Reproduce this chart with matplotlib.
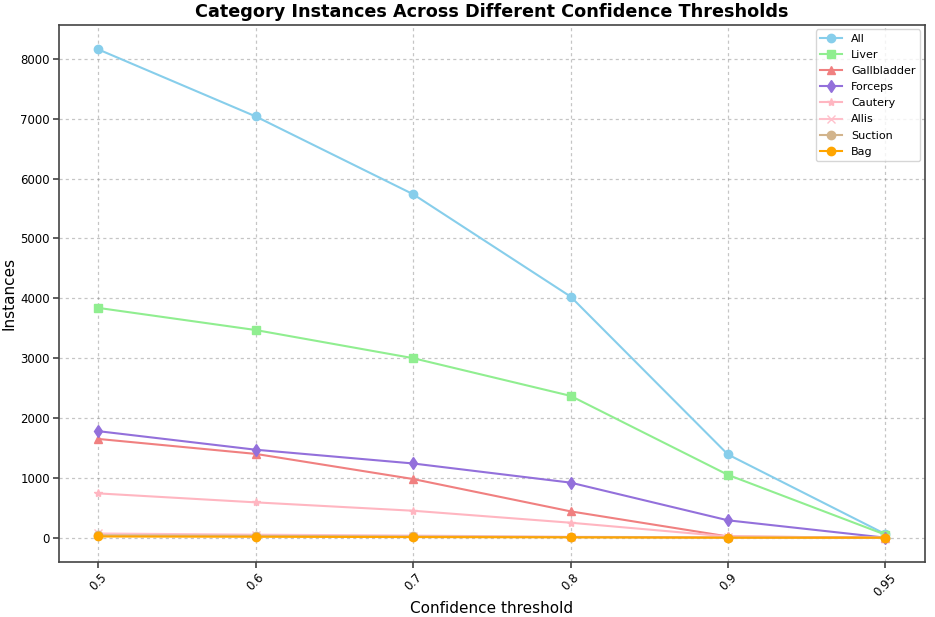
import matplotlib
matplotlib.use('Agg')
import matplotlib.pyplot as plt

thresholds = ['0.5', '0.6', '0.7', '0.8', '0.9', '0.95']

all_counts = [8160, 7040, 5740, 4030, 1390, 60]
liver = [3840, 3470, 3000, 2370, 1050, 50]
gallbladder = [1650, 1400, 980, 440, 20, 0]
forceps = [1780, 1470, 1240, 920, 290, 0]
cautery = [740, 590, 450, 250, 20, 0]
allis = [70, 50, 35, 15, 5, 0]
suction = [40, 30, 20, 10, 2, 0]
bag = [20, 15, 10, 5, 0, 0]

series = [
    ('All', all_counts, 'skyblue', 'o'),
    ('Liver', liver, 'lightgreen', 's'),
    ('Gallbladder', gallbladder, 'lightcoral', '^'),
    ('Forceps', forceps, 'mediumpurple', 'd'),
    ('Cautery', cautery, 'lightpink', '*'),
    ('Allis', allis, 'pink', 'x'),
    ('Suction', suction, 'tan', 'o'),
    ('Bag', bag, 'orange', 'o'),
]

fig, ax = plt.subplots(figsize=(9.35, 6.17), dpi=100)

x = range(len(thresholds))
for name, vals, color, marker in series:
    ax.plot(x, vals, color=color, marker=marker, label=name, linewidth=1.5, markersize=6)

ax.set_xticks(list(x))
ax.set_xticklabels(thresholds, rotation=45)
ax.set_xlabel('Confidence threshold', fontsize=11, labelpad=2)
ax.set_ylabel('Instances', fontsize=11, labelpad=3)
ax.set_title('Category Instances Across Different Confidence Thresholds',
             fontsize=12.7, fontweight='bold', pad=6)
ax.grid(True, linestyle=(0, (2.5, 2.5)), color='gray', alpha=0.45, linewidth=0.9)
ax.legend(loc='upper right', fontsize=8, borderaxespad=0.4, labelspacing=0.55)
ax.tick_params(labelsize=8.5, length=4, width=1.1, color='#333333', pad=2.5)
for s in ax.spines.values():
    s.set_color('#444444')
    s.set_linewidth(1.2)

fig.subplots_adjust(left=0.063, right=0.989, top=0.9595, bottom=0.089)
fig.savefig('out.png', dpi=100)
